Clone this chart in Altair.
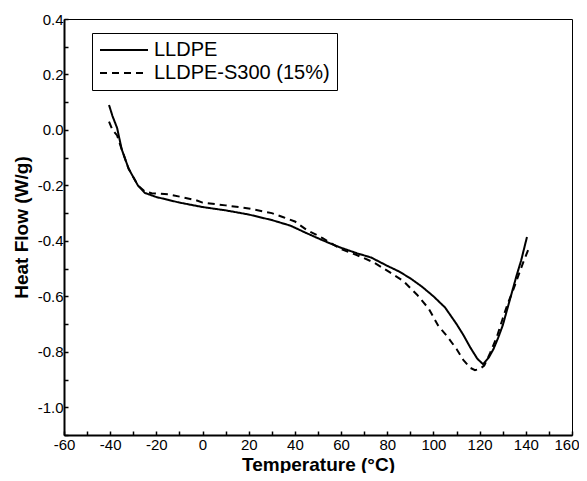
import altair as alt
import pandas as pd

series_names = ["LLDPE", "LLDPE-S300 (15%)"]

# LLDPE (solid)
x_lldpe = [-40.5, -39, -37, -35, -32, -28, -25, -20, -15, -10, -5, 0, 10, 20, 30,
           38, 45, 52, 60, 67, 73, 80, 85, 90, 95, 100, 105, 110, 113, 116, 119,
           121.5, 124, 126, 128, 130, 132, 134, 136, 138, 140.5]
y_lldpe = [0.09, 0.05, 0.007, -0.07, -0.14, -0.2, -0.227, -0.242, -0.252, -0.262,
           -0.27, -0.278, -0.29, -0.305, -0.325, -0.345, -0.372, -0.398, -0.425,
           -0.445, -0.46, -0.49, -0.51, -0.535, -0.565, -0.6, -0.64, -0.7, -0.74,
           -0.785, -0.825, -0.845, -0.82, -0.79, -0.75, -0.705, -0.645, -0.585,
           -0.525, -0.47, -0.386]

# LLDPE-S300 (15%) (dashed)
x_s300 = [-40.5, -39, -37, -35, -32, -28, -25, -22, -15, -9, -3, 0, 10, 20, 30,
          35, 40, 45, 52, 60, 67, 74, 81, 87, 93, 98, 102, 106, 110, 113, 116,
          118, 120, 122, 124.5, 127.5, 130, 132, 134.5, 137, 139, 141]
y_s300 = [0.03, 0.0, -0.02, -0.07, -0.14, -0.2, -0.222, -0.228, -0.232, -0.242,
          -0.253, -0.262, -0.272, -0.283, -0.3, -0.315, -0.33, -0.36, -0.39,
          -0.43, -0.452, -0.477, -0.513, -0.545, -0.595, -0.645, -0.705, -0.745,
          -0.79, -0.83, -0.858, -0.866, -0.862, -0.85, -0.805, -0.745, -0.68,
          -0.63, -0.578, -0.52, -0.475, -0.433]

x_major = list(range(-60, 161, 20))
x_minor = list(range(-60, 161, 10))
y_major = [0.4, 0.2, 0.0, -0.2, -0.4, -0.6, -0.8, -1.0]
y_minor = [round(0.4 - 0.1 * i, 1) for i in range(16)]

df = pd.concat([
    pd.DataFrame({"temp": x_lldpe, "flow": y_lldpe, "series": series_names[0]}),
    pd.DataFrame({"temp": x_s300, "flow": y_s300, "series": series_names[1]}),
])

FONT = "Liberation Sans"
x_scale = alt.Scale(domain=[-60, 160], nice=False, zero=False)
y_scale = alt.Scale(domain=[-1.1, 0.4], nice=False, zero=False)
hyphen = "replace(datum.label, '\u2212', '-')"

base = alt.Chart(df)

lines = base.mark_line(color="black", strokeWidth=2).encode(
    x=alt.X("temp:Q", scale=x_scale,
            axis=alt.Axis(title="Temperature (°C)", values=x_major, ticks=False,
                          domainColor="black", domainWidth=2, labelFont=FONT,
                          labelFontSize=15, labelColor="black", labelPadding=2,
                          titleFont=FONT, titleFontSize=19, titleFontWeight="bold",
                          titleColor="black", titlePadding=3, grid=False,
                          labelFlush=False, format="d", labelExpr=hyphen,
                          labelAlign={"condition": {"test": "datum.value >= 160",
                                                    "value": "right"},
                                      "value": "center"},
                          labelOffset={"condition": {"test": "datum.value >= 160",
                                                     "value": 7},
                                       "value": 0})),
    y=alt.Y("flow:Q", scale=y_scale,
            axis=alt.Axis(title="Heat Flow (W/g)", values=y_major, ticks=False,
                          domainColor="black", domainWidth=2, labelFont=FONT,
                          labelFontSize=15, labelColor="black", labelPadding=1,
                          titleFont=FONT, titleFontSize=19, titleFontWeight="bold",
                          titleColor="black", titlePadding=6, grid=False,
                          labelFlush=False, format=".1f", labelExpr=hyphen)),
    strokeDash=alt.StrokeDash(
        "series:N",
        scale=alt.Scale(domain=series_names, range=[[1, 0], [7, 5]]),
        legend=alt.Legend(title=None, orient="none", legendX=28, legendY=14,
                          strokeColor="black", fillColor="white", padding=7,
                          symbolType="stroke", symbolSize=2304,
                          symbolStrokeWidth=2, symbolStrokeColor="black",
                          labelFont=FONT, labelFontSize=20, labelColor="black",
                          labelOffset=5, rowPadding=3, clipHeight=20,
                          labelLimit=400)),
)

ticks_layer = base.mark_line(strokeOpacity=0).encode(
    x=alt.X("temp:Q", scale=x_scale,
            axis=alt.Axis(orient="top", offset=-416, values=x_minor, labels=False,
                          domain=False, ticks=True, tickSize=4, tickWidth=1.5,
                          tickColor="black", title=None, grid=False)),
    y=alt.Y("flow:Q", scale=y_scale,
            axis=alt.Axis(orient="right", offset=-508, values=y_minor, labels=False,
                          domain=False, ticks=True, tickSize=4, tickWidth=1.5,
                          tickColor="black", title=None, grid=False)),
)

chart = alt.layer(lines, ticks_layer).resolve_axis(
    x="independent", y="independent"
).properties(
    width=508, height=416,
    autosize=alt.AutoSizeParams(type="none"),
    padding={"left": 56, "top": 11, "right": 7, "bottom": 38},
    background="white",
).configure_view(stroke="black", strokeWidth=1)

chart.save("out.html", embed_options={"renderer": "svg", "actions": False})
